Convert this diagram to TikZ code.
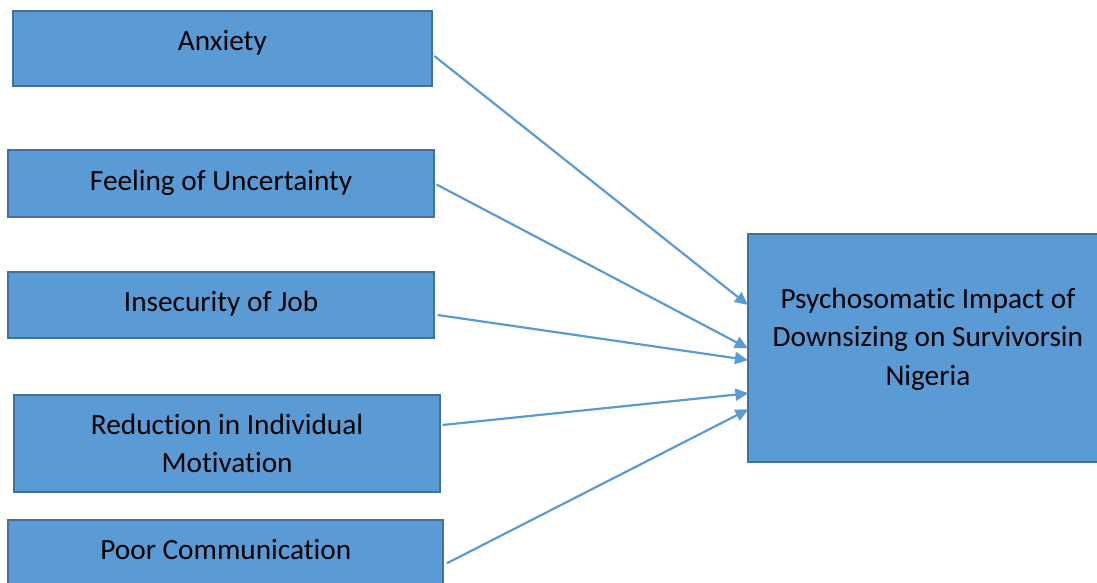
\documentclass[tikz,border=0pt]{standalone}
\usepackage{fontspec}
\setmainfont{Carlito}[Ligatures=NoCommon]
\usetikzlibrary{arrows.meta}
\definecolor{boxfill}{HTML}{5B9BD5}
\definecolor{boxline}{HTML}{41719C}
\definecolor{arrowcol}{HTML}{5B9BD5}
\begin{document}
\begin{tikzpicture}[x=1pt,y=-1pt,
  box/.style={draw=boxline,fill=boxfill,line width=2pt,inner sep=0pt,rectangle},
  txt/.style={inner sep=0pt,align=center,font=\fontsize{29.3}{38.4}\selectfont,anchor=base},
  link/.style={draw=arrowcol,line width=2.2pt,-{Triangle[length=13pt,width=12pt]}}]
\useasboundingbox (0,0) rectangle (1097,583);

% factor boxes
\node[box,minimum width=419pt,minimum height=75pt] (anx) at (222.3,48.5) {};
\node[box,minimum width=426pt,minimum height=67pt] (feel) at (221.1,183.8) {};
\node[box,minimum width=426pt,minimum height=66pt] (insec) at (221.1,305.1) {};
\node[box,minimum width=426pt,minimum height=97pt] (red) at (227.1,443.8) {};
\node[box,minimum width=435pt,minimum height=76pt] (poor) at (225.8,558.3) {};
% outcome box
\node[box,minimum width=360pt,minimum height=228pt] (psy) at (927.9,347.5) {};

% labels (anchored at the baseline of the last line)
\node[txt] (anxT) at (222.3,50.5) {Anxiety};
\node[txt] (feelT) at (221.1,190.3) {Feeling of Uncertainty};
\node[txt] (insecT) at (221.1,311) {Insecurity of Job};
\node[txt] (redT) at (227.1,472.7) {Reduction in Individual\\Motivation};
\node[txt] (poorT) at (225.8,559.3) {Poor Communication};
\node[txt] (psyT) at (927.9,385) {Psychosomatic Impact of\\Downsizing on Survivorsin\\Nigeria};

% connectors
\draw[link] ([shift={(1.5,7.5)}]anx.east) -- ([shift={(1,-42.5)}]psy.west);
\draw[link] ([shift={(1.5,0.7)}]feel.east) -- ([shift={(1,0.8)}]psy.west);
\draw[link] ([shift={(2.5,9.9)}]insec.east) -- ([shift={(1,12.5)}]psy.west);
\draw[link] ([shift={(1.5,-18.8)}]red.east) -- ([shift={(1.5,45.8)}]psy.west);
\draw[link] ([shift={(2.5,5)}]poor.east) -- ([shift={(1.5,61.8)}]psy.west);
\end{tikzpicture}
\end{document}
